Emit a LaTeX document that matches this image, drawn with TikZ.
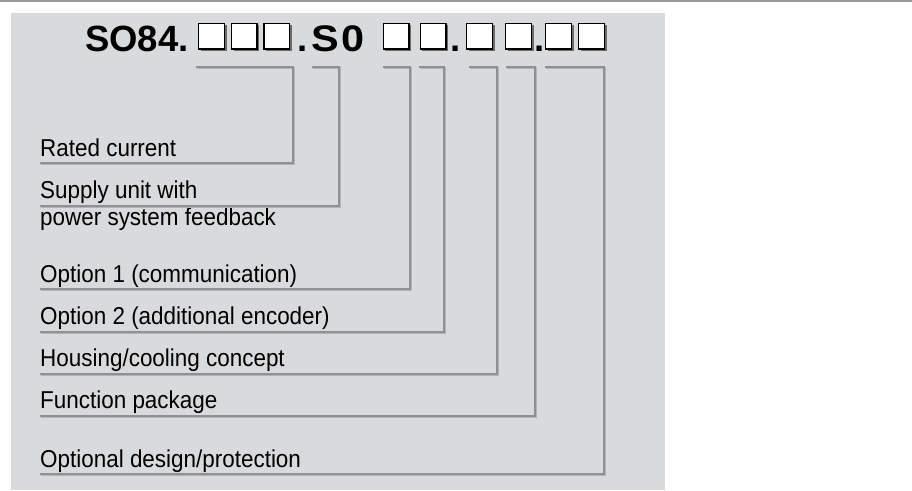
\documentclass[tikz,border=0pt]{standalone}
\usepackage{fontspec}
\setmainfont{Liberation Sans}
\newfontfamily\labfont[FakeStretch=0.92]{Liberation Sans}
\newfontfamily\widefont[FakeStretch=1.12]{Liberation Sans}
\usetikzlibrary{shadows}
\definecolor{panel}{HTML}{D9DADC}
\definecolor{conn}{HTML}{8F9095}
\definecolor{connlight}{HTML}{B3B4B8}
\definecolor{topgray}{HTML}{9A9A9C}
\begin{document}
\begin{tikzpicture}[x=1pt,y=-1pt,
  lab/.style={font=\labfont\fontsize{24.4}{27}\selectfont, anchor=base west, inner sep=0pt, text=black},
  ttl/.style={font=\bfseries\fontsize{36.5}{40}\selectfont, anchor=base west, inner sep=0pt, text=black},
  ttlw/.style={font=\widefont\bfseries\fontsize{37}{40}\selectfont, anchor=base west, inner sep=0pt, text=black},
  digitbox/.style={draw=black, line width=1.3pt, fill=white, minimum width=25.7pt, minimum height=25.7pt, inner sep=0pt,
    drop shadow={shadow xshift=2.2pt, shadow yshift=-2.2pt, fill=black!58, opacity=1}},
  conn/.style={draw=conn, line width=2.5pt, line join=miter,
    preaction={draw=connlight, line width=2.5pt, transform canvas={shift={(0.8pt,-0.8pt)}}}}
]
\useasboundingbox (0,0) rectangle (912,490);
\fill[white] (0,0) rectangle (912,490);
\draw[topgray, line width=2pt] (0,1.2) -- (912,1.2);
\fill[panel] (11,13) rectangle (665,490);

% title
\node[ttl] (so) at (85,51) {SO84.};
\node[digitbox] (b1) at (211.5,36) {};
\node[digitbox] (b2) at (244.2,36) {};
\node[digitbox] (b3) at (276.7,36) {};
\node[ttl] (d1) at (297,51) {.};
\node[ttlw] (ss) at (311.5,51) {S};
\node[ttlw] (zz) at (341.6,51) {0};
\node[digitbox] (b4) at (396,36) {};
\node[digitbox] (b5) at (433,36) {};
\node[ttl] (d2) at (450,51) {.};
\node[digitbox] (b6) at (479.5,36) {};
\node[digitbox] (b7) at (518.5,36) {};
\node[ttl] (d3) at (534,51) {.};
\node[digitbox] (b8) at (558.5,36) {};
\node[digitbox] (b9) at (591.5,36) {};

% labels
\node[lab] (l1) at (40,156) {Rated current};
\node[lab] (l2) at (40,198) {Supply unit with};
\node[lab] (l2b) at (40,225) {power system feedback};
\node[lab] (l3) at (40,282) {Option 1 (communication)};
\node[lab] (l4) at (40,324) {Option 2 (additional encoder)};
\node[lab] (l5) at (40,366) {Housing/cooling concept};
\node[lab] (l6) at (40,408) {Function package};
\node[lab] (l7) at (40,467) {Optional design/protection};

% connector coordinates
\coordinate (s1) at (196,67);  \coordinate (t1) at (293,67);  \coordinate (e1) at (40,163);
\coordinate (s2) at (312,67);  \coordinate (t2) at (339,67);  \coordinate (e2) at (40,206);
\coordinate (s3) at (383,67);  \coordinate (t3) at (410,67);  \coordinate (e3) at (40,289);
\coordinate (s4) at (419,67);  \coordinate (t4) at (444,67);  \coordinate (e4) at (40,332);
\coordinate (s5) at (469,67);  \coordinate (t5) at (497,67);  \coordinate (e5) at (40,374);
\coordinate (s6) at (506,67);  \coordinate (t6) at (535,67);  \coordinate (e6) at (40,416);
\coordinate (s7) at (545,67);  \coordinate (t7) at (604,67);  \coordinate (e7) at (40,474);

\foreach \i in {1,...,7}{
  \draw[conn] (s\i) -- (t\i) |- (e\i);
}
\end{tikzpicture}
\end{document}
